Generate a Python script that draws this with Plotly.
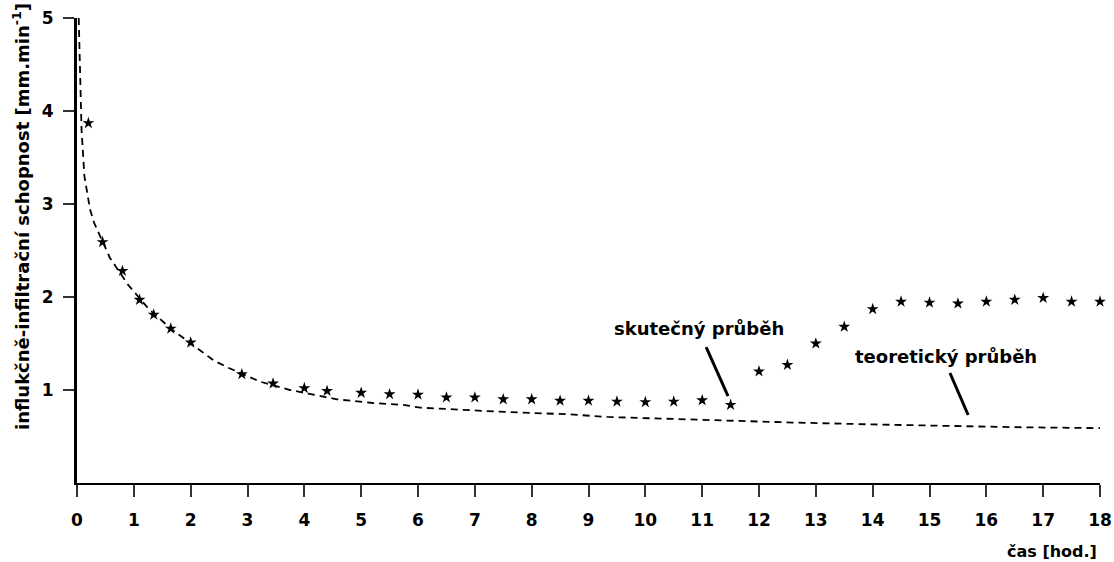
import plotly.graph_objects as go

# measured (skutečný průběh) - stars
t_meas = [0.2, 0.45, 0.8, 1.1, 1.35, 1.65, 2.0, 2.9, 3.45, 4.0, 4.4, 5.0, 5.5, 6.0, 6.5, 7.0,
          7.5, 8.0, 8.5, 9.0, 9.5, 10.0, 10.5, 11.0, 11.5, 12.0, 12.5, 13.0, 13.5, 14.0,
          14.5, 15.0, 15.5, 16.0, 16.5, 17.0, 17.5, 18.0]
f_meas = [3.87, 2.59, 2.28, 1.97, 1.81, 1.66, 1.51, 1.17, 1.07, 1.02, 0.99, 0.97, 0.955, 0.95,
          0.92, 0.92, 0.90, 0.90, 0.885, 0.885, 0.875, 0.87, 0.875, 0.89, 0.84, 1.20, 1.27,
          1.50, 1.68, 1.87, 1.95, 1.94, 1.93, 1.95, 1.97, 1.99, 1.95, 1.95]

# theoretical (teoretický průběh) - dashed curve
t_theo = [0.03, 0.05, 0.08, 0.13, 0.18, 0.23, 0.3, 0.45, 0.58, 0.9, 1.25, 1.65, 2.0, 2.4,
          2.66, 3.22, 3.75, 4.57, 5.2, 5.74, 6.04, 6.6, 7.2, 7.85, 8.62, 9.33, 10.1, 11.08,
          11.85, 12.6, 14.0, 15.37, 16.5, 18.0]
f_theo = [5.0, 4.4, 3.8, 3.3, 3.1, 2.94, 2.8, 2.6, 2.42, 2.13, 1.88, 1.66, 1.5, 1.32,
          1.24, 1.09, 1.0, 0.90, 0.86, 0.84, 0.81, 0.79, 0.774, 0.756, 0.74, 0.71, 0.695,
          0.677, 0.668, 0.65, 0.63, 0.61, 0.60, 0.59]

x_ticks = list(range(0, 19))
y_ticks = [1, 2, 3, 4, 5]

FONT = "DejaVu Sans"

fig = go.Figure()
fig.add_trace(go.Scatter(x=t_theo, y=f_theo, mode="lines",
                         line=dict(color="black", width=1.8, dash="7px,5px"),
                         showlegend=False, hoverinfo="skip", cliponaxis=False))
fig.add_trace(go.Scatter(x=t_meas, y=f_meas, mode="markers",
                         marker=dict(symbol="star", size=9, color="black"),
                         showlegend=False, cliponaxis=False))

fig.update_layout(
    width=1114, height=562,
    margin=dict(l=77, r=14, t=18, b=79, autoexpand=False),
    paper_bgcolor="white", plot_bgcolor="white",
    font=dict(family=FONT, color="black"),
    xaxis=dict(range=[0, 18], tickvals=x_ticks,
               ticktext=[f"<b>{v}</b>" for v in x_ticks],
               showline=True, linecolor="black", linewidth=2,
               ticks="outside", ticklen=12, tickwidth=2, tickcolor="#333",
               tickfont=dict(size=17, family=FONT), ticklabelstandoff=9,
               showgrid=False, zeroline=False, automargin=False),
    yaxis=dict(range=[0, 5], tickvals=y_ticks,
               ticktext=[f"<b>{v}</b>" for v in y_ticks],
               showline=True, linecolor="black", linewidth=3,
               ticks="outside", ticklen=11, tickwidth=2, tickcolor="#333",
               tickfont=dict(size=17, family=FONT), ticklabelstandoff=6,
               showgrid=False, zeroline=False, automargin=False),
)

fig.add_annotation(xref="paper", yref="paper", x=(21 - 77) / 1023, y=(483 - 217) / 465,
                   text="<b>influkčně-infiltrační schopnost [mm.min<sup>-1</sup>]</b>",
                   textangle=-90, showarrow=False, xanchor="center", yanchor="middle",
                   font=dict(size=18, family=FONT))
fig.add_annotation(xref="paper", yref="paper", x=(1099 - 77) / 1023, y=-(551 - 483) / 465,
                   text="<b>čas [hod.]</b>", showarrow=False,
                   xanchor="right", yanchor="middle", font=dict(size=16, family=FONT))

fig.add_annotation(x=10.94, y=1.656, text="<b>skutečný průběh</b>", showarrow=False,
                   xanchor="center", yanchor="middle", font=dict(size=18, family=FONT))
fig.add_annotation(x=15.29, y=1.355, text="<b>teoretický průběh</b>", showarrow=False,
                   xanchor="center", yanchor="middle", font=dict(size=18, family=FONT))
fig.add_shape(type="line", x0=11.07, y0=1.462, x1=11.455, y1=0.935,
              line=dict(color="black", width=3))
fig.add_shape(type="line", x0=15.36, y0=1.183, x1=15.68, y1=0.731,
              line=dict(color="black", width=3))

fig.write_html("out.html", config={"displayModeBar": False},
               post_script="document.body.style.margin='0';document.body.style.overflow='hidden';")
